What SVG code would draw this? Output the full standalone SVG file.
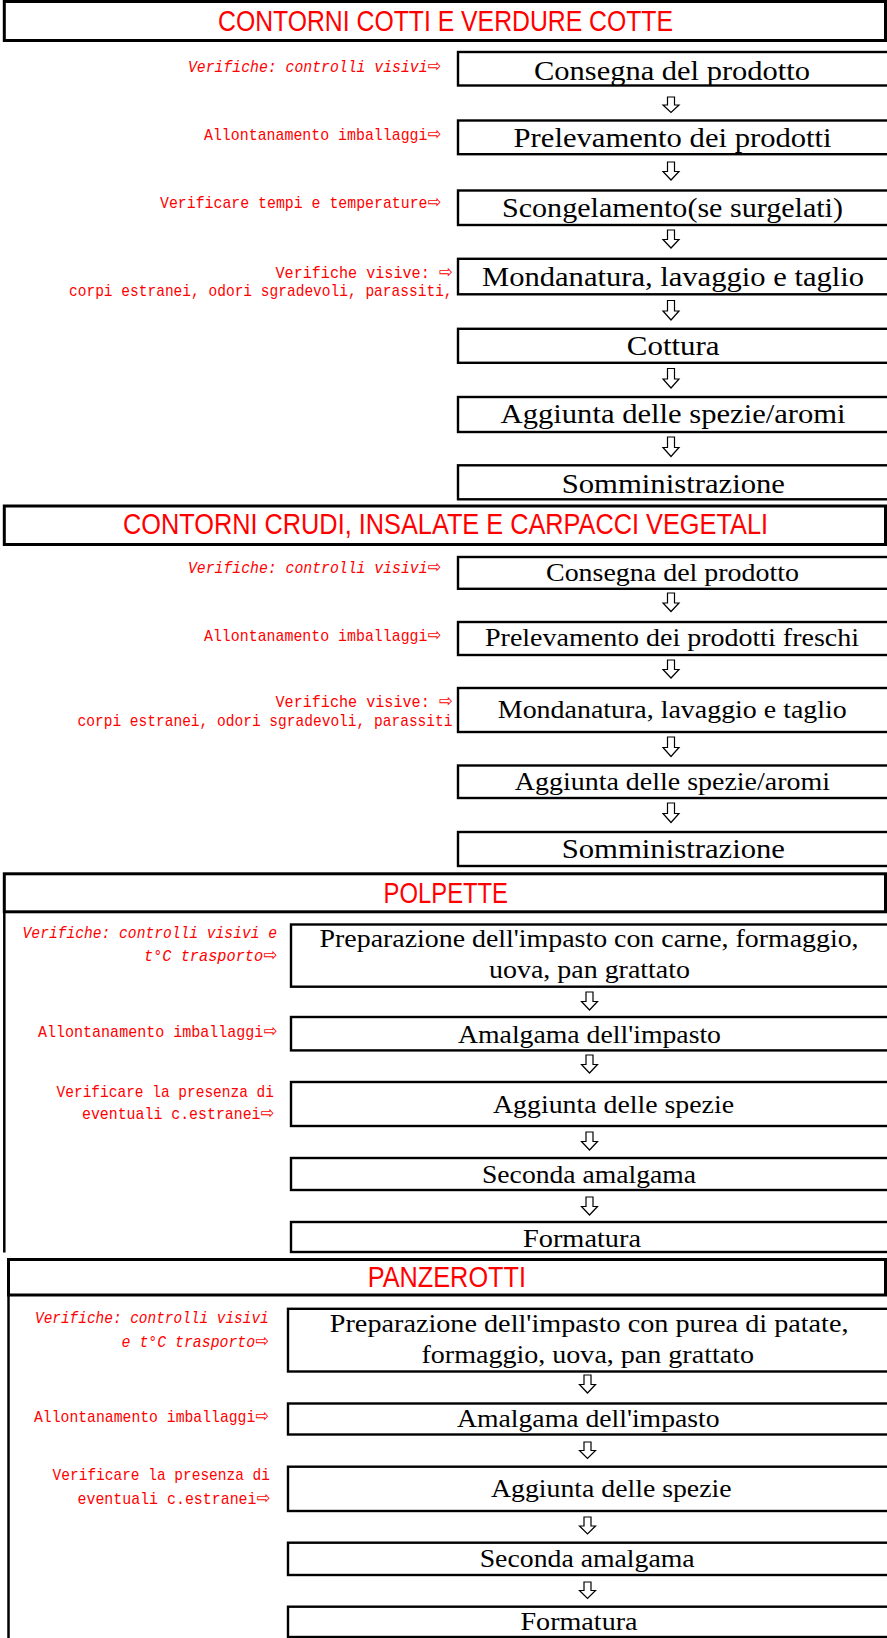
<svg xmlns="http://www.w3.org/2000/svg" width="887" height="1638" viewBox="0 0 887 1638">
<style>
.hdr{fill:#fff;stroke:#000;stroke-width:3}
.box{fill:#fff;stroke:#000;stroke-width:2.4}
.ht{font-family:"Liberation Sans",Arial,sans-serif;font-size:29px;fill:#f00}
.nt{font-family:"Liberation Serif","Times New Roman",serif;fill:#000}
.rt{font-family:"Liberation Mono","DejaVu Sans Mono",monospace;font-size:14.8px;fill:#f00}
.ra{font-family:"DejaVu Sans",sans-serif;font-size:16px;font-style:normal}
.it{font-style:italic}
.arr{fill:#fff;stroke:#000;stroke-width:1.2;stroke-linejoin:miter}
.sec{stroke:#000;stroke-width:2.5;fill:none}
</style>
<rect width="887" height="1638" fill="#fff"/>

<!-- Section 1 -->
<g id="header1"><rect class="hdr" x="4.3" y="1.5" width="881.2" height="39"/><text class="ht" x="218" y="30.7" textLength="455" lengthAdjust="spacingAndGlyphs">CONTORNI COTTI E VERDURE COTTE</text></g>
<g id="s1n1"><rect class="box" x="458" y="52" width="440" height="33.5"/><text class="nt" font-size="28" x="534" y="80" textLength="276" lengthAdjust="spacingAndGlyphs">Consegna del prodotto</text></g>
<g id="s1n2"><rect class="box" x="458" y="120.5" width="440" height="33.7"/><text class="nt" font-size="28" x="513.6" y="146.7" textLength="318" lengthAdjust="spacingAndGlyphs">Prelevamento dei prodotti</text></g>
<g id="s1n3"><rect class="box" x="458" y="190.5" width="440" height="34.5"/><text class="nt" font-size="28" x="502" y="217.3" textLength="341" lengthAdjust="spacingAndGlyphs">Scongelamento(se surgelati)</text></g>
<g id="s1n4"><rect class="box" x="458" y="258.8" width="440" height="35.5"/><text class="nt" font-size="28" x="482" y="286" textLength="382" lengthAdjust="spacingAndGlyphs">Mondanatura, lavaggio e taglio</text></g>
<g id="s1n5"><rect class="box" x="458" y="328.8" width="440" height="34"/><text class="nt" font-size="28" x="626.8" y="355" textLength="92.8" lengthAdjust="spacingAndGlyphs">Cottura</text></g>
<g id="s1n6"><rect class="box" x="458" y="397" width="440" height="35"/><text class="nt" font-size="28" x="500.6" y="423.3" textLength="345" lengthAdjust="spacingAndGlyphs">Aggiunta delle spezie/aromi</text></g>
<g id="s1n7"><rect class="box" x="458" y="465.3" width="440" height="34"/><text class="nt" font-size="28" x="561.7" y="492.7" textLength="223.3" lengthAdjust="spacingAndGlyphs">Somministrazione</text></g>
<g id="s1notes">
<text class="rt it" transform="matrix(1 0 0 1.12 0 71.7)" x="188" y="0" textLength="253" lengthAdjust="spacingAndGlyphs">Verifiche: controlli visivi<tspan class="ra">⇨</tspan></text>
<text class="rt" transform="matrix(1 0 0 1.12 0 139.5)" x="204" y="0" textLength="237" lengthAdjust="spacingAndGlyphs">Allontanamento imballaggi<tspan class="ra">⇨</tspan></text>
<text class="rt" transform="matrix(1 0 0 1.12 0 208.3)" x="160" y="0" textLength="281" lengthAdjust="spacingAndGlyphs">Verificare tempi e temperature<tspan class="ra">⇨</tspan></text>
<text class="rt" transform="matrix(1 0 0 1.12 0 277.7)" x="275.5" y="0" textLength="177" lengthAdjust="spacingAndGlyphs">Verifiche visive: <tspan class="ra">⇨</tspan></text>
<text class="rt" transform="matrix(1 0 0 1.12 0 296)" x="69" y="0" textLength="383.6" lengthAdjust="spacingAndGlyphs">corpi estranei, odori sgradevoli, parassiti,</text>
</g>

<!-- Section 2 -->
<g id="header2"><rect class="hdr" x="4.3" y="506" width="881.2" height="38.5"/><text class="ht" x="123" y="534" textLength="645" lengthAdjust="spacingAndGlyphs">CONTORNI CRUDI, INSALATE E CARPACCI VEGETALI</text></g>
<g id="s2n1"><rect class="box" x="458" y="557" width="440" height="31.8"/><text class="nt" font-size="26" x="546" y="580.7" textLength="253" lengthAdjust="spacingAndGlyphs">Consegna del prodotto</text></g>
<g id="s2n2"><rect class="box" x="458" y="622" width="440" height="33"/><text class="nt" font-size="26" x="485" y="646" textLength="374" lengthAdjust="spacingAndGlyphs">Prelevamento dei prodotti freschi</text></g>
<g id="s2n3"><rect class="box" x="458" y="688" width="440" height="44"/><text class="nt" font-size="26" x="497.8" y="717.7" textLength="349" lengthAdjust="spacingAndGlyphs">Mondanatura, lavaggio e taglio</text></g>
<g id="s2n4"><rect class="box" x="458" y="765.5" width="440" height="32.5"/><text class="nt" font-size="26" x="514.8" y="790" textLength="315.2" lengthAdjust="spacingAndGlyphs">Aggiunta delle spezie/aromi</text></g>
<g id="s2n5"><rect class="box" x="458" y="832" width="440" height="34"/><text class="nt" font-size="28" x="561.7" y="858.3" textLength="223.3" lengthAdjust="spacingAndGlyphs">Somministrazione</text></g>
<g id="s2notes">
<text class="rt it" transform="matrix(1 0 0 1.12 0 573.3)" x="188" y="0" textLength="253" lengthAdjust="spacingAndGlyphs">Verifiche: controlli visivi<tspan class="ra">⇨</tspan></text>
<text class="rt" transform="matrix(1 0 0 1.12 0 641)" x="204" y="0" textLength="237" lengthAdjust="spacingAndGlyphs">Allontanamento imballaggi<tspan class="ra">⇨</tspan></text>
<text class="rt" transform="matrix(1 0 0 1.12 0 706.7)" x="275.5" y="0" textLength="177" lengthAdjust="spacingAndGlyphs">Verifiche visive: <tspan class="ra">⇨</tspan></text>
<text class="rt" transform="matrix(1 0 0 1.12 0 726)" x="77.5" y="0" textLength="375" lengthAdjust="spacingAndGlyphs">corpi estranei, odori sgradevoli, parassiti</text>
</g>

<!-- Section 3 -->
<g id="header3"><rect class="hdr" x="4.3" y="873.8" width="881.2" height="38"/><line class="sec" x1="4.3" y1="911.8" x2="4.3" y2="1252.5"/><text class="ht" x="383.6" y="902.7" textLength="124.4" lengthAdjust="spacingAndGlyphs">POLPETTE</text></g>
<g id="s3n1"><rect class="box" x="291" y="924.5" width="600" height="62.2"/><text class="nt" font-size="25" x="319.6" y="947.3" textLength="539" lengthAdjust="spacingAndGlyphs">Preparazione dell'impasto con carne, formaggio,</text><text class="nt" font-size="25" x="489" y="978.3" textLength="201" lengthAdjust="spacingAndGlyphs">uova, pan grattato</text></g>
<g id="s3n2"><rect class="box" x="291" y="1017" width="600" height="33.4"/><text class="nt" font-size="25" x="458" y="1042.7" textLength="263" lengthAdjust="spacingAndGlyphs">Amalgama dell'impasto</text></g>
<g id="s3n3"><rect class="box" x="291" y="1082" width="600" height="44"/><text class="nt" font-size="25" x="493" y="1112.7" textLength="241" lengthAdjust="spacingAndGlyphs">Aggiunta delle spezie</text></g>
<g id="s3n4"><rect class="box" x="291" y="1158" width="600" height="32"/><text class="nt" font-size="25" x="482" y="1182.7" textLength="214" lengthAdjust="spacingAndGlyphs">Seconda amalgama</text></g>
<g id="s3n5"><rect class="box" x="291" y="1222" width="600" height="30"/><text class="nt" font-size="25" x="523" y="1247" textLength="118" lengthAdjust="spacingAndGlyphs">Formatura</text></g>
<g id="s3notes">
<text class="rt it" transform="matrix(1 0 0 1.12 0 938.3)" x="22.6" y="0" textLength="254.4" lengthAdjust="spacingAndGlyphs">Verifiche: controlli visivi e</text>
<text class="rt it" transform="matrix(1 0 0 1.12 0 960.7)" x="144" y="0" textLength="133" lengthAdjust="spacingAndGlyphs">t°C trasporto<tspan class="ra">⇨</tspan></text>
<text class="rt" transform="matrix(1 0 0 1.12 0 1036.7)" x="38" y="0" textLength="239" lengthAdjust="spacingAndGlyphs">Allontanamento imballaggi<tspan class="ra">⇨</tspan></text>
<text class="rt" transform="matrix(1 0 0 1.12 0 1096.7)" x="56.6" y="0" textLength="217.4" lengthAdjust="spacingAndGlyphs">Verificare la presenza di</text>
<text class="rt" transform="matrix(1 0 0 1.12 0 1119)" x="82" y="0" textLength="192" lengthAdjust="spacingAndGlyphs">eventuali c.estranei<tspan class="ra">⇨</tspan></text>
</g>

<!-- Section 4 -->
<g id="header4"><rect class="hdr" x="8.5" y="1259.5" width="877" height="35.5"/><line class="sec" x1="8.5" y1="1295" x2="8.5" y2="1640"/><text class="ht" x="367.7" y="1286.7" textLength="158.3" lengthAdjust="spacingAndGlyphs">PANZEROTTI</text></g>
<g id="s4n1"><rect class="box" x="288" y="1308.8" width="603" height="62.7"/><text class="nt" font-size="25.5" x="329.8" y="1332.3" textLength="518.7" lengthAdjust="spacingAndGlyphs">Preparazione dell'impasto con purea di patate,</text><text class="nt" font-size="25.5" x="421.5" y="1363.3" textLength="332.5" lengthAdjust="spacingAndGlyphs">formaggio, uova, pan grattato</text></g>
<g id="s4n2"><rect class="box" x="288" y="1403.5" width="603" height="31"/><text class="nt" font-size="25.5" x="457" y="1427.3" textLength="262.6" lengthAdjust="spacingAndGlyphs">Amalgama dell'impasto</text></g>
<g id="s4n3"><rect class="box" x="288" y="1466.7" width="603" height="44.3"/><text class="nt" font-size="25.5" x="491" y="1496.7" textLength="240.5" lengthAdjust="spacingAndGlyphs">Aggiunta delle spezie</text></g>
<g id="s4n4"><rect class="box" x="288" y="1542.7" width="603" height="32.3"/><text class="nt" font-size="25.5" x="479.7" y="1566.7" textLength="215" lengthAdjust="spacingAndGlyphs">Seconda amalgama</text></g>
<g id="s4n5"><rect class="box" x="288" y="1606.7" width="603" height="30.3"/><text class="nt" font-size="25.5" x="520.5" y="1630" textLength="117" lengthAdjust="spacingAndGlyphs">Formatura</text></g>
<g id="s4notes">
<text class="rt it" transform="matrix(1 0 0 1.12 0 1322.5)" x="35" y="0" textLength="233.7" lengthAdjust="spacingAndGlyphs">Verifiche: controlli visivi</text>
<text class="rt it" transform="matrix(1 0 0 1.12 0 1346.5)" x="121.6" y="0" textLength="147" lengthAdjust="spacingAndGlyphs">e t°C trasporto<tspan class="ra">⇨</tspan></text>
<text class="rt" transform="matrix(1 0 0 1.12 0 1421.7)" x="34" y="0" textLength="234.7" lengthAdjust="spacingAndGlyphs">Allontanamento imballaggi<tspan class="ra">⇨</tspan></text>
<text class="rt" transform="matrix(1 0 0 1.12 0 1480.2)" x="52.6" y="0" textLength="217.4" lengthAdjust="spacingAndGlyphs">Verificare la presenza di</text>
<text class="rt" transform="matrix(1 0 0 1.12 0 1503.8)" x="77.5" y="0" textLength="192.5" lengthAdjust="spacingAndGlyphs">eventuali c.estranei<tspan class="ra">⇨</tspan></text>
</g>

<!-- Connectors (hollow down arrows) -->
<g id="connectors">
<path class="arr" d="M667.5 97 h7 v8 h4.5 l-8 7.5 l-8 -7.5 h4.5 z"/>
<path class="arr" d="M667.5 162 h7 v9.5 h4.5 l-8 8.5 l-8 -8.5 h4.5 z"/>
<path class="arr" d="M667.5 230 h7 v9.5 h4.5 l-8 8.5 l-8 -8.5 h4.5 z"/>
<path class="arr" d="M667.5 300.5 h7 v10.5 h4.5 l-8 9 l-8 -9 h4.5 z"/>
<path class="arr" d="M667.5 368.5 h7 v10.5 h4.5 l-8 9 l-8 -9 h4.5 z"/>
<path class="arr" d="M667.5 437 h7 v10.5 h4.5 l-8 9 l-8 -9 h4.5 z"/>
<path class="arr" d="M667.5 593 h7 v10 h4.5 l-8 8.5 l-8 -8.5 h4.5 z"/>
<path class="arr" d="M667.5 660 h7 v9.5 h4.5 l-8 8.5 l-8 -8.5 h4.5 z"/>
<path class="arr" d="M667.5 737 h7 v10.5 h4.5 l-8 9 l-8 -9 h4.5 z"/>
<path class="arr" d="M667.5 803 h7 v10.5 h4.5 l-8 9 l-8 -9 h4.5 z"/>
<path class="arr" d="M586 992 h7 v9.5 h4.5 l-8 8.5 l-8 -8.5 h4.5 z"/>
<path class="arr" d="M586 1055 h7 v9.5 h4.5 l-8 8.5 l-8 -8.5 h4.5 z"/>
<path class="arr" d="M586 1132 h7 v9.5 h4.5 l-8 8.5 l-8 -8.5 h4.5 z"/>
<path class="arr" d="M586 1197 h7 v9.5 h4.5 l-8 8.5 l-8 -8.5 h4.5 z"/>
<path class="arr" d="M584 1375 h7 v9.5 h4.5 l-8 8.5 l-8 -8.5 h4.5 z"/>
<path class="arr" d="M584 1442 h7 v8.5 h4.5 l-8 8 l-8 -8 h4.5 z"/>
<path class="arr" d="M584 1517 h7 v9 h4.5 l-8 8 l-8 -8 h4.5 z"/>
<path class="arr" d="M584 1582 h7 v8.5 h4.5 l-8 8 l-8 -8 h4.5 z"/>
</g>
</svg>
